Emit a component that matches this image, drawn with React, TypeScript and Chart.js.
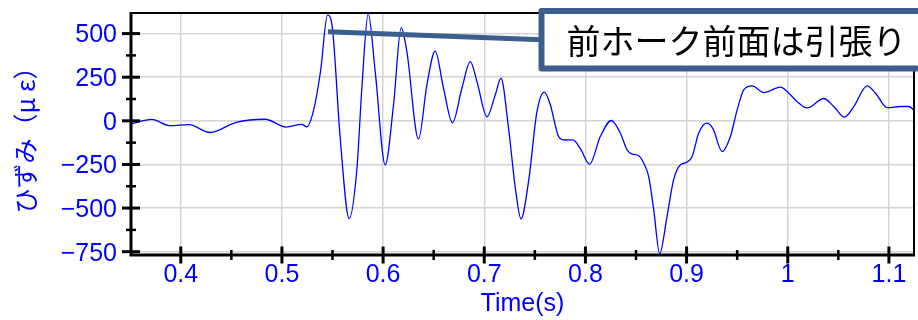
import React, { useEffect, useRef } from "react";
import { Chart, registerables } from "chart.js";

Chart.register(...registerables);

// Strain gauge trace: time (s) and strain (με)
const timeS = [
  0.3508, 0.3713, 0.3894, 0.4082, 0.429, 0.4547, 0.4834, 0.5042, 0.5197, 0.5246,
  0.5312, 0.5383, 0.545, 0.5497, 0.5576, 0.5665, 0.5741, 0.579, 0.5853, 0.5922,
  0.6021, 0.6103, 0.6179, 0.6235, 0.635, 0.6433, 0.6515, 0.6597, 0.6686, 0.6779,
  0.6862, 0.6928, 0.7027, 0.7109, 0.7165, 0.724, 0.7307, 0.7363, 0.7438, 0.7521,
  0.7594, 0.7653, 0.7735, 0.7801, 0.7877, 0.795, 0.8041, 0.8147, 0.8256, 0.8345,
  0.8411, 0.8461, 0.8526, 0.8576, 0.8625, 0.8675, 0.8734, 0.8807, 0.8872, 0.8939,
  0.8998, 0.9055, 0.912, 0.9199, 0.9261, 0.9351, 0.9433, 0.95, 0.9565, 0.9648,
  0.9763, 0.9928, 0.9994, 1.0093, 1.0192, 1.0356, 1.0455, 1.0561, 1.0653, 1.0785,
  1.0868, 1.0983, 1.1115, 1.1197, 1.1248,
];

const strain = [
  -17, 8, -28, -22, -67, -9, 9, -36, -20, -35,
  58, 290, 606, 540, -100, -561, -275, 187, 615, 282,
  -252, 92, 534, 396, -105, 206, 400, 187, -11, 187,
  339, 225, 23, 149, 244, -42, -385, -562, -347, 53,
  164, 92, -90, -110, -109, -160, -248, -90, 2, -70,
  -166, -191, -200, -242, -319, -509, -761, -547, -337, -252,
  -239, -204, -70, -13, -45, -176, -90, 63, 177, 200,
  162, 193, 168, 110, 74, 128, 82, 21, 82, 200,
  158, 76, 82, 82, 60,
];

const xTicks = [0.4, 0.5, 0.6, 0.7, 0.8, 0.9, 1.0, 1.1];
const xMinorTicks = [0.45, 0.55, 0.65, 0.75, 0.85, 0.95, 1.05];
const yTicks = [-750, -500, -250, 0, 250, 500];
const yMinorTicks = [-625, -375, -125, 125, 375];

const xRange = [0.3508, 1.1248];
const yRange = [-769, 618];

const xTitle = "Time(s)";
const yTitle = "ひずみ（μ ε）";
const calloutText = "前ホーク前面は引張り";
const calloutPoint = { x: 0.5455, y: 510 };

const BLUE = "#0000ff";
const OUTLINE = "#3a5f8c";
const TICK_FONT = "'Liberation Sans', Arial, sans-serif";
const JP_FONT = "'Noto Sans CJK JP', sans-serif";

const frameAndCallout = {
  id: "frameAndCallout",
  afterDraw(chart: any) {
    const { ctx, chartArea, scales } = chart;
    const { left, right, top, bottom } = chartArea;
    const xs = scales.x;
    const ys = scales.y;
    ctx.save();
    ctx.strokeStyle = "#000";
    ctx.lineCap = "butt";

    // thin top and right frame
    ctx.lineWidth = 2;
    ctx.beginPath();
    ctx.moveTo(left, top);
    ctx.lineTo(right, top);
    ctx.lineTo(right, bottom);
    ctx.stroke();

    // heavy axis lines
    ctx.lineWidth = 3;
    ctx.beginPath();
    ctx.moveTo(left, top - 1);
    ctx.lineTo(left, bottom);
    ctx.lineTo(right + 1, bottom);
    ctx.stroke();

    // tick marks crossing the axes
    const tickY = (v: number, half: number) => {
      const p = ys.getPixelForValue(v);
      ctx.beginPath();
      ctx.moveTo(left - half, p);
      ctx.lineTo(left + half, p);
      ctx.stroke();
    };
    const tickX = (v: number, half: number) => {
      const p = xs.getPixelForValue(v);
      ctx.beginPath();
      ctx.moveTo(p, bottom - half);
      ctx.lineTo(p, bottom + half);
      ctx.stroke();
    };
    ctx.lineWidth = 3;
    yTicks.forEach((v) => tickY(v, 9));
    xTicks.forEach((v) => tickX(v, 8.5));
    ctx.lineWidth = 2.5;
    yMinorTicks.forEach((v) => tickY(v, 5));
    xMinorTicks.forEach((v) => tickX(v, 5));

    // callout box with leader line
    const px = xs.getPixelForValue(calloutPoint.x);
    const py = ys.getPixelForValue(calloutPoint.y);
    const boxX = left + 410.5;
    const boxY = top - 2;
    const boxW = 420;
    const boxH = 57.5;
    ctx.strokeStyle = OUTLINE;
    ctx.lineWidth = 5;
    ctx.beginPath();
    ctx.moveTo(px, py);
    ctx.lineTo(boxX, boxY + boxH / 2);
    ctx.stroke();

    ctx.fillStyle = "#fff";
    ctx.lineWidth = 6;
    ctx.lineJoin = "round";
    ctx.beginPath();
    ctx.rect(boxX, boxY, boxW, boxH);
    ctx.fill();
    ctx.stroke();

    ctx.fillStyle = "#000";
    ctx.font = `34px ${JP_FONT}`;
    ctx.textAlign = "left";
    ctx.textBaseline = "middle";
    ctx.fillText(calloutText, boxX + 25, boxY + boxH / 2 + 1);
    ctx.restore();
  },
};

export default function App() {
  const canvasRef = useRef<HTMLCanvasElement>(null);

  useEffect(() => {
    const canvas = canvasRef.current;
    if (!canvas) return;
    const points = timeS.map((t, i) => ({ x: t, y: strain[i] }));
    const chart = new Chart(canvas, {
      type: "line",
      data: {
        datasets: [
          {
            data: points,
            borderColor: BLUE,
            borderWidth: 1.3,
            pointRadius: 0,
            fill: false,
            cubicInterpolationMode: "monotone",
          },
        ],
      },
      options: {
        animation: false,
        responsive: false,
        devicePixelRatio: 1,
        layout: { padding: { top: 13, right: 4, left: 0, bottom: 0 } },
        plugins: {
          legend: { display: false },
          tooltip: { enabled: false },
        },
        scales: {
          x: {
            type: "linear",
            min: xRange[0],
            max: xRange[1],
            afterBuildTicks: (scale: any) => {
              scale.ticks = xTicks.map((v) => ({ value: v }));
            },
            afterFit: (scale: any) => {
              scale.height = 65;
              scale.paddingLeft = 0;
              scale.paddingRight = 0;
              scale.paddingTop = 0;
              scale.paddingBottom = 0;
            },
            grid: { color: "#d4d4d4", lineWidth: 1.5, drawTicks: false },
            border: { display: false },
            ticks: {
              color: BLUE,
              padding: 5,
              maxRotation: 0,
              autoSkip: false,
              font: { family: TICK_FONT, size: 25 },
              callback: (v: any) => String(Number(Number(v).toFixed(2))),
            },
            title: {
              display: true,
              text: xTitle,
              color: BLUE,
              font: { family: TICK_FONT, size: 25 },
              padding: { top: 0, bottom: 1 },
            },
          },
          y: {
            type: "linear",
            min: yRange[0],
            max: yRange[1],
            afterBuildTicks: (scale: any) => {
              scale.ticks = yTicks.map((v) => ({ value: v }));
            },
            afterFit: (scale: any) => {
              scale.width = 131;
              scale.paddingLeft = 0;
              scale.paddingRight = 0;
              scale.paddingTop = 0;
              scale.paddingBottom = 0;
            },
            grid: { color: "#d4d4d4", lineWidth: 1.5, drawTicks: false },
            border: { display: false },
            ticks: {
              color: BLUE,
              padding: 14,
              labelOffset: 2,
              autoSkip: false,
              font: { family: TICK_FONT, size: 25 },
              callback: (v: any) => (Number(v) < 0 ? "\u2212" + Math.abs(Number(v)) : String(v)),
            },
            title: {
              display: true,
              text: yTitle,
              color: BLUE,
              font: { family: JP_FONT, size: 25 },
              padding: { top: 10, bottom: 0 },
            },
          },
        },
      },
      plugins: [frameAndCallout],
    } as any);
    return () => chart.destroy();
  }, []);

  return (
    <div style={{ position: "fixed", left: 0, top: 0, width: 918, height: 320, background: "#fff" }}>
      <canvas ref={canvasRef} width={918} height={320} style={{ display: "block", width: 918, height: 320 }} />
    </div>
  );
}
